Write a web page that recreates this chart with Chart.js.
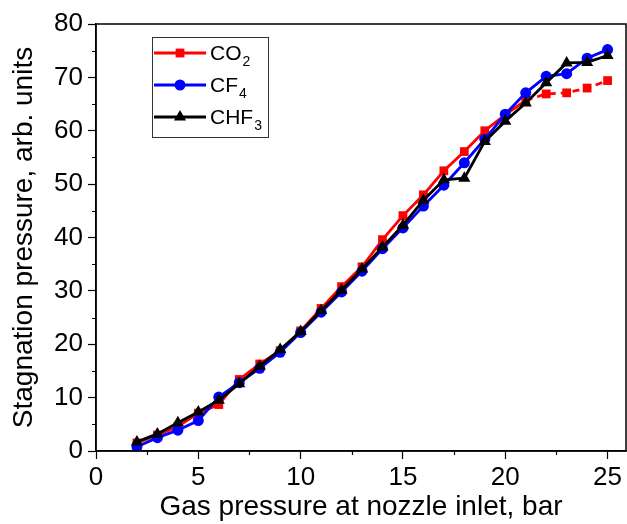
<!DOCTYPE html>
<html>
<head>
<meta charset="utf-8">
<script src="https://cdn.jsdelivr.net/npm/chart.js@4/dist/chart.umd.min.js"></script>
<style>
  html, body { margin: 0; padding: 0; background: #fff; }
  #wrap { width: 627px; height: 524px; }
</style>
</head>
<body>
<div id="wrap"><canvas id="myChart"></canvas></div>
<script>
const FONT = "Arial, 'Liberation Sans', sans-serif";

// inlet pressure, bar
const inletPressure = [2, 3, 4, 5, 6, 7, 8, 9, 10, 11, 12, 13, 14, 15, 16, 17, 18, 19, 20, 21, 22, 23, 24, 25];

// stagnation pressure, arb. units
const co2  = [1.5, 3.0, 4.6, 7.1, 8.7, 13.4, 16.3, 18.8, 22.5, 26.7, 30.8, 34.5, 39.6, 44.1, 48.0, 52.5, 56.1, 60.0, 63.0, 65.7, 66.9, 67.1, 68.0, 69.4];
const cf4  = [0.8, 2.5, 3.9, 5.7, 10.1, 12.8, 15.5, 18.5, 22.2, 26.0, 29.8, 33.7, 37.9, 41.8, 45.9, 49.8, 54.0, 58.4, 63.1, 67.1, 70.2, 70.7, 73.6, 75.2];
const chf3 = [1.7, 3.2, 5.3, 7.3, 9.5, 12.6, 15.9, 19.0, 22.4, 26.3, 30.1, 34.1, 38.2, 42.3, 47.0, 50.8, 51.1, 58.0, 61.8, 65.2, 69.0, 72.7, 72.8, 74.1];

const xTicks = [0, 5, 10, 15, 20, 25];
const xMinor = [2.5, 7.5, 12.5, 17.5, 22.5];
const yMinor = [5, 15, 25, 35, 45, 55, 65, 75];

const pts = arr => arr.map((v, i) => ({ x: inletPressure[i], y: v }));

const data = {
  datasets: [
    {
      label: 'CO2', sub: '2', base: 'CO',
      data: pts(co2),
      borderColor: '#ff0000', backgroundColor: '#ff0000',
      pointStyle: 'rect', pointRadius: 6.2,
      segment: { borderDash: ctx => ctx.p0.parsed.x >= 21 ? [7, 5] : undefined },
      order: 3
    },
    {
      label: 'CF4', sub: '4', base: 'CF',
      data: pts(cf4),
      borderColor: '#0000ff', backgroundColor: '#0000ff',
      pointStyle: 'circle', pointRadius: 5.5,
      order: 2
    },
    {
      label: 'CHF3', sub: '3', base: 'CHF',
      data: pts(chf3),
      borderColor: '#000000', backgroundColor: '#000000',
      pointStyle: 'triangle', pointRadius: 7,
      order: 1
    }
  ]
};

// box around the plot, minor ticks and the legend with subscripts
const framePlugin = {
  id: 'frame',
  afterDraw(chart) {
    const { ctx, chartArea: a, scales: { x, y } } = chart;
    ctx.save();
    ctx.strokeStyle = '#000';
    ctx.lineWidth = 1.5;
    ctx.strokeRect(a.left, a.top, a.right - a.left, a.bottom - a.top);

    ctx.lineWidth = 1.2;
    ctx.beginPath();
    xMinor.forEach(v => {
      const px = Math.round(x.getPixelForValue(v)) + 0.5;
      ctx.moveTo(px, a.bottom); ctx.lineTo(px, a.bottom + 4);
    });
    yMinor.forEach(v => {
      const py = Math.round(y.getPixelForValue(v)) + 0.5;
      ctx.moveTo(a.left, py); ctx.lineTo(a.left - 4, py);
    });
    ctx.stroke();

    // legend
    const bx = 152, by = 37, bw = 116, bh = 100;
    ctx.lineWidth = 1;
    ctx.strokeStyle = '#333';
    ctx.strokeRect(bx + 0.5, by + 0.5, bw, bh);
    const rows = [53, 85, 117];
    chart.data.datasets.forEach((ds, i) => {
      const ry = rows[i];
      ctx.strokeStyle = ds.borderColor;
      ctx.lineWidth = 2.8;
      ctx.setLineDash([]);
      ctx.beginPath();
      ctx.moveTo(154, ry); ctx.lineTo(206, ry);
      ctx.stroke();
      ctx.fillStyle = ds.backgroundColor;
      Chart.helpers.drawPoint(ctx, {
        pointStyle: ds.pointStyle, radius: ds.pointRadius, borderWidth: 0
      }, 180, ry);
      ctx.fillStyle = '#000';
      ctx.textBaseline = 'alphabetic';
      ctx.textAlign = 'left';
      ctx.font = '21px ' + FONT;
      ctx.fillText(ds.base, 210, ry + 7);
      const w = ctx.measureText(ds.base).width;
      ctx.font = '14px ' + FONT;
      ctx.fillText(ds.sub, 210 + w + 1, ry + 13);
    });
    ctx.restore();
  }
};

const config = {
  type: 'line',
  data,
  options: {
    responsive: true,
    maintainAspectRatio: false,
    animation: false,
    layout: { autoPadding: false, padding: { top: 24, right: 1, left: 0, bottom: 0 } },
    elements: {
      line: { borderWidth: 2.8, tension: 0 },
      point: { borderWidth: 0, hoverRadius: 6 }
    },
    plugins: { legend: { display: false }, tooltip: { enabled: false } },
    scales: {
      x: {
        type: 'linear',
        min: 0, max: 25.9,
        afterBuildTicks: s => { s.ticks = xTicks.map(v => ({ value: v })); },
        afterFit: s => { s.height = 73; s.paddingLeft = 0; s.paddingRight = 0; },
        grid: { drawOnChartArea: false, tickLength: 8, color: '#000', tickWidth: 1.2 },
        border: { color: '#000', width: 1.5 },
        ticks: { color: '#000', padding: 3, font: { family: FONT, size: 26 }, maxRotation: 0 },
        title: {
          display: true, text: 'Gas pressure at nozzle inlet, bar',
          color: '#000', font: { family: FONT, size: 28 }, padding: { top: 0, bottom: 0 }
        }
      },
      y: {
        min: 0, max: 80,
        ticks: { stepSize: 10, color: '#000', padding: 5, font: { family: FONT, size: 26 } },
        afterFit: s => { s.width = 96; },
        grid: { drawOnChartArea: false, tickLength: 8, color: '#000', tickWidth: 1.2 },
        border: { color: '#000', width: 1.5 },
        title: {
          display: true, text: 'Stagnation pressure, arb. units',
          color: '#000', font: { family: FONT, size: 28 }, padding: { top: 7, bottom: 0 }
        }
      }
    }
  },
  plugins: [framePlugin]
};

const myChart = new Chart(document.getElementById('myChart'), config);
</script>
</body>
</html>
